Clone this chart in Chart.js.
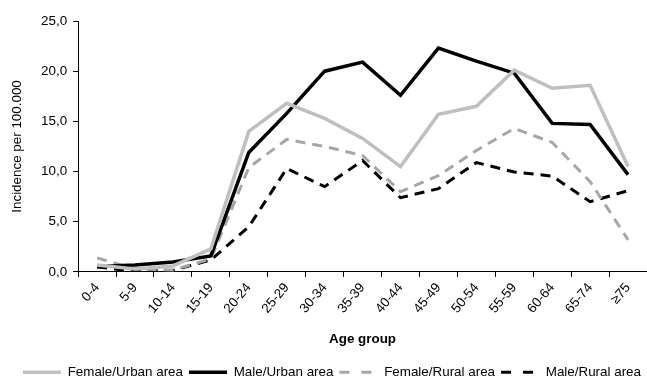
<!DOCTYPE html>
<html><head><meta charset="utf-8">
<script src="https://cdn.jsdelivr.net/npm/chart.js@4/dist/chart.umd.min.js"></script>
<style>html,body{margin:0;padding:0;background:#fff}#wrap{width:647px;height:379px}</style>
</head><body><div id="wrap"><canvas id="c"></canvas></div>
<script>
const ageGroups = ["0-4","5-9","10-14","15-19","20-24","25-29","30-34","35-39","40-44","45-49","50-54","55-59","60-64","65-74","\u226575"];
const femaleUrban = [0.7,0.3,0.6,2.3,14.0,16.8,15.3,13.3,10.5,15.7,16.5,20.1,18.3,18.6,10.5];
const maleUrban   = [0.55,0.7,1.0,1.6,11.9,15.8,20.0,20.9,17.6,22.3,21.0,19.8,14.8,14.7,9.7];
const femaleRural = [1.4,0.3,0.2,1.3,10.4,13.2,12.5,11.6,8.0,9.6,12.1,14.3,12.9,9.0,3.2];
const maleRural   = [0.5,0.05,0.15,1.2,4.5,10.3,8.5,11.1,7.4,8.3,10.9,9.95,9.55,7.0,8.1];
const seriesNames = ["Female/Urban area","Male/Urban area","Female/Rural area","Male/Rural area"];
const yTicks = [0,5,10,15,20,25];

const font = "'Liberation Sans', Arial, sans-serif";
const FS = 13.4;
new Chart(document.getElementById('c'), {
  type: 'line',
  data: {
    labels: ageGroups,
    datasets: [
      {label: seriesNames[0], data: femaleUrban, borderColor:'#bfbfbf', backgroundColor:'#bfbfbf', borderWidth:3.5},
      {label: seriesNames[1], data: maleUrban, borderColor:'#000000', backgroundColor:'#000000', borderWidth:3.5},
      {label: seriesNames[2], data: femaleRural, borderColor:'#a6a6a6', backgroundColor:'#a6a6a6', borderWidth:3, borderDash:[10,7]},
      {label: seriesNames[3], data: maleRural, borderColor:'#000000', backgroundColor:'#000000', borderWidth:3, borderDash:[10,7]}
    ]
  },
  options: {
    responsive: true, maintainAspectRatio: false, animation: false,
    elements: { point: { radius: 0 }, line: { tension: 0, borderCapStyle:'butt', borderJoinStyle:'miter' } },
    layout: { padding: { left: 4, right: 0, top: 21, bottom: -10 } },
    plugins: {
      tooltip: { enabled: false },
      legend: {
        position: 'bottom',
        align: 'end',
        labels: { usePointStyle: true, pointStyle: 'line', pointStyleWidth: 38, boxHeight: 12, padding: 6,
          color: '#000', font: { family: font, size: FS },
          generateLabels: (chart) => chart.data.datasets.map((ds, i) => ({
            text: ds.label, datasetIndex: i, hidden: false,
            strokeStyle: ds.borderColor, fillStyle: ds.borderColor, fontColor: '#000',
            lineWidth: ds.borderWidth, lineDash: ds.borderDash ? [10, 12] : [],
            pointStyle: 'line', lineCap: 'butt'
          }))
        }
      }
    },
    scales: {
      x: {
        offset: true,
        grid: { display: true, drawOnChartArea: false, drawTicks: true, tickLength: 5, offset: true, color: '#000' },
        border: { display: true, color: '#000', width: 1 },
        ticks: { color: '#000', font: { family: font, size: FS }, minRotation: 50, maxRotation: 50, autoSkip: false, padding: 3 },
        title: { display: true, text: 'Age group', color: '#000', font: { family: font, size: FS, weight: 'bold' }, padding: { top: 12, bottom: 12 } }
      },
      y: {
        min: 0, max: 25,
        afterBuildTicks: (s) => { s.ticks = yTicks.map(v => ({ value: v })); },
        grid: { display: true, drawOnChartArea: false, drawTicks: true, tickLength: 5, color: '#000' },
        border: { display: true, color: '#000', width: 1 },
        ticks: { color: '#000', font: { family: font, size: FS }, padding: 6,
          callback: (v) => Number(v).toFixed(1).replace('.', ',') },
        title: { display: true, text: 'Incidence per 100.000', color: '#000', font: { family: font, size: FS }, padding: { top: 5, bottom: 10 } }
      }
    }
  }
});
</script></body></html>
